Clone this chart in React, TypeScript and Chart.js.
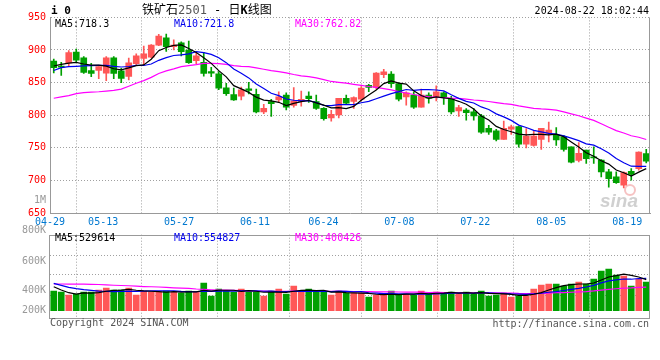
import React, { useEffect, useRef } from 'react';
import { Chart, registerables } from 'chart.js';

Chart.register(...registerables);

// ---------- data ----------
const DATES = [
  '04-29', '04-30', '05-06', '05-07', '05-08', '05-09', '05-10', '05-13', '05-14', '05-15',
  '05-16', '05-17', '05-20', '05-21', '05-22', '05-23', '05-24', '05-27', '05-28', '05-29',
  '05-30', '05-31', '06-03', '06-04', '06-05', '06-06', '06-07', '06-11', '06-12', '06-13',
  '06-14', '06-17', '06-18', '06-19', '06-20', '06-21', '06-24', '06-25', '06-26', '06-27',
  '06-28', '07-01', '07-02', '07-03', '07-04', '07-05', '07-08', '07-09', '07-10', '07-11',
  '07-12', '07-15', '07-16', '07-17', '07-18', '07-19', '07-22', '07-23', '07-24', '07-25',
  '07-26', '07-29', '07-30', '07-31', '08-01', '08-02', '08-05', '08-06', '08-07', '08-08',
  '08-09', '08-12', '08-13', '08-14', '08-15', '08-16', '08-19', '08-20', '08-21', '08-22',
];
const TICK_LABELS = ['04-29', '05-13', '05-27', '06-11', '06-24', '07-08', '07-22', '08-05', '08-19'];

const OPEN = [
  883, 875.5, 880, 897, 888, 868.5, 868.5, 864.5, 888, 868,
  859.5, 879, 887, 889, 907.5, 918.5, 905, 911, 900, 883.5,
  881, 867, 863.5, 842, 831.5, 829, 840.5, 832, 805, 821,
  823.5, 831, 815, 821, 829.5, 821, 810.5, 796, 800.5, 826,
  821, 824.5, 846, 842.5, 862, 863, 848.5, 828, 831, 812.5,
  831, 828, 834.5, 826, 806.5, 808, 805, 799, 780, 776,
  763, 778.5, 782.5, 755.5, 753.5, 763, 772, 769, 767, 751.5,
  730.5, 746.5, 736, 731, 713, 705.5, 692.5, 714, 718, 741,
];
const HIGH = [
  886, 881, 899, 901.5, 890, 879.5, 874.5, 890, 890, 872,
  887.5, 894, 906, 908.5, 924, 924.5, 915.5, 912.5, 913.5, 896,
  896.5, 873.5, 867, 849, 841.5, 843, 850.5, 840, 816.5, 824.5,
  836, 834.5, 842.5, 837, 836, 831, 811.5, 807.5, 826, 831,
  828, 844, 847.5, 865.5, 870.5, 867, 850, 836, 836, 840,
  834.5, 845, 836, 829, 815, 810, 810, 801.5, 784.5, 778.5,
  791, 785, 783.5, 779.5, 776, 780, 789.5, 781, 769, 751.5,
  758, 746.5, 751.5, 732, 717, 713, 713, 718, 744, 747.5,
];
const LOW = [
  865, 861, 874.5, 881, 864, 859, 856, 853, 856, 850,
  854, 876.5, 877.5, 888, 906.5, 898, 900, 891, 879.5, 878.5,
  860, 859, 839, 830.5, 822.5, 823.5, 832.5, 803.5, 802.5, 798,
  819.5, 808, 812.5, 814, 819.5, 809, 792.5, 791, 796, 816.5,
  810.5, 822, 836, 840, 857.5, 842.5, 822, 815.5, 810.5, 812.5,
  818.5, 822, 816.5, 802, 798, 792.5, 792.5, 772, 770.5, 760.5,
  763, 770.5, 751, 750, 752.5, 747.5, 759, 753.5, 745, 727,
  728.5, 726, 726, 705.5, 689.5, 695.5, 688.5, 700.5, 715.5, 727,
];
const CLOSE = [
  873, 873.5, 896, 884.5, 865.5, 864, 874.5, 888, 864, 856.5,
  880.5, 891, 894, 907.5, 921.5, 905, 907.5, 897.5, 880.5, 891,
  864, 864.5, 841.5, 833, 823.5, 839, 838, 805, 810.5, 817.5,
  828, 812.5, 822, 824.5, 825.5, 810.5, 794.5, 801.5, 826, 818.5,
  827, 841.5, 842.5, 864.5, 866.5, 848.5, 824.5, 834.5, 812.5, 831,
  826, 836, 828, 805, 811.5, 804, 799, 774, 774, 763,
  780, 782, 755.5, 768, 768, 780, 777, 762, 747.5, 728,
  741.5, 733.5, 734.5, 713, 702.5, 696.5, 712, 709, 743.5, 729.5,
];
const VOLUME = [
  335000, 318000, 267000, 284000, 318000, 318000, 352000, 386000, 352000, 352000,
  386000, 267000, 335000, 318000, 318000, 335000, 318000, 301000, 335000, 318000,
  472000, 250000, 369000, 335000, 318000, 369000, 318000, 318000, 250000, 335000,
  369000, 284000, 421000, 318000, 369000, 318000, 318000, 267000, 335000, 301000,
  301000, 301000, 233000, 267000, 267000, 335000, 267000, 284000, 267000, 335000,
  284000, 318000, 301000, 318000, 284000, 318000, 284000, 335000, 250000, 267000,
  301000, 233000, 250000, 250000, 369000, 438000, 455000, 455000, 421000, 455000,
  489000, 455000, 540000, 676000, 710000, 608000, 591000, 421000, 540000, 489000,
];

// moving-average values at the left edge (history not shown)
const MA5_HEAD = [875.5, 878, 880, 881];
const MA10_HEAD = [868.5, 873, 874.5, 875, 875.5, 876, 876.5, 876.5, 875];
const MA30_HEAD = [
  826, 828, 830, 833, 834.5, 835.4, 836, 837, 838, 840,
  844.5, 849, 853, 858, 864, 868, 871, 874.6, 876, 877.5,
  879.5, 879.5, 879, 878, 876, 875, 874.6, 872.5, 870.5,
];
const VOL_MA5_HEAD = [409000, 352000, 307000, 284000];
const VOL_MA10_HEAD = [466000, 432000, 398000, 375000, 358000, 347000, 335000, 330000, 324000];
const VOL_MA30_HEAD = [
  455000, 455000, 454000, 453000, 452000, 450000, 447000, 440000, 434000, 430000,
  425000, 418000, 412000, 408000, 404000, 396000, 390000, 386000, 382000, 370000,
  362000, 356000, 352000, 350000, 348000, 342000, 338000, 336000, 334000,
];

const PRICE_MIN = 650;
const PRICE_MAX = 950;
const PRICE_STEP = 50;
const VOL_MIN = -129600;
const VOL_MAX = 1295700;
const VOL_AXIS_LABELS = ['800K', '600K', '400K', '200K'];

const TITLE_CODE = 'i 0';
const TITLE_PARTS = ['铁矿石', '2501', ' - 日', 'K', '线图'];
const TIMESTAMP = '2024-08-22 18:02:44';
const PRICE_MA_TEXT = ['MA5:718.3', 'MA10:721.8', 'MA30:762.82'];
const VOL_MA_TEXT = ['MA5:529614', 'MA10:554827', 'MA30:400426'];
const SCALE_NOTE = '1M';
const COPYRIGHT = 'Copyright 2024 SINA.COM';
const URL_TEXT = 'http://finance.sina.com.cn';
const WATERMARK = 'sina';

// ---------- style ----------
const UP = '#ff5757';
const DOWN = '#00a000';
const GRID = '#a0a0a0';
const BORDER = '#999999';
const MA_COLORS = ['#000000', '#0000ee', '#ff00ff'];
const MONO = "'DejaVu Sans Mono', monospace";
const CJK = "'DejaVu Sans Mono', 'Noto Sans CJK SC', sans-serif";

function movingAverage(src: number[], n: number, head: number[]): number[] {
  return src.map((_, i) => {
    if (i < n - 1) return head[i];
    let s = 0;
    for (let k = i - n + 1; k <= i; k++) s += src[k];
    return s / n;
  });
}

function dateAxis(showLabels: boolean, tickIdx: number[], n: number): any {
  return {
    type: 'linear',
    position: 'bottom',
    min: 0,
    max: n - 1,
    offset: false,
    afterBuildTicks: (s: any) => {
      s.ticks = tickIdx.map((v) => ({ value: v }));
    },
    afterFit: (s: any) => {
      s.height = showLabels ? 15 : 0;
    },
    ticks: {
      display: showLabels,
      autoSkip: false,
      maxRotation: 0,
      color: '#0078d0',
      font: { family: MONO, size: 10 },
      padding: 3,
      callback: (v: number) => DATES[v],
    },
    grid: { color: GRID, drawTicks: false, lineWidth: 1 },
    border: { display: showLabels, color: BORDER, width: 1, dash: [1, 2] },
  };
}

const pricePlugin = {
  id: 'priceDecor',
  afterDraw(chart: any) {
    const { ctx, chartArea: a } = chart;
    ctx.save();
    ctx.strokeStyle = BORDER;
    ctx.lineWidth = 1;
    ctx.beginPath();
    ctx.moveTo(Math.round(a.right) - 0.5, a.top);
    ctx.lineTo(Math.round(a.right) - 0.5, a.bottom);
    ctx.stroke();

    ctx.textBaseline = 'middle';
    ctx.textAlign = 'left';
    ctx.font = `bold 11px ${MONO}`;
    ctx.fillStyle = '#000';
    ctx.fillText(TITLE_CODE, 51, 11);

    const partStyles = [
      { c: '#000', b: false },
      { c: '#555', b: false },
      { c: '#000', b: false },
      { c: '#000', b: true },
      { c: '#000', b: false },
    ];
    let x = 142;
    TITLE_PARTS.forEach((t, i) => {
      ctx.font = `${partStyles[i].b ? 'bold ' : ''}12px ${CJK}`;
      ctx.fillStyle = partStyles[i].c;
      ctx.fillText(t, x, 11);
      x += ctx.measureText(t).width;
    });

    ctx.font = `10px ${MONO}`;
    ctx.fillStyle = '#000';
    ctx.textAlign = 'right';
    ctx.fillText(TIMESTAMP, 649, 11);

    ctx.textAlign = 'left';
    const mx = [55, 174, 295];
    PRICE_MA_TEXT.forEach((t, i) => {
      ctx.fillStyle = MA_COLORS[i];
      ctx.fillText(t, mx[i], 24);
    });

    ctx.textAlign = 'right';
    ctx.fillStyle = '#999';
    ctx.fillText(SCALE_NOTE, 46, 200);

    // faint watermark
    ctx.textAlign = 'left';
    ctx.font = `italic bold 19px 'Liberation Sans', sans-serif`;
    ctx.fillStyle = 'rgba(150,150,150,0.45)';
    ctx.fillText(WATERMARK, 600, 202);
    ctx.strokeStyle = 'rgba(235,120,120,0.45)';
    ctx.lineWidth = 2;
    ctx.beginPath();
    ctx.arc(630, 190, 5, 0, Math.PI * 2);
    ctx.stroke();
    ctx.restore();
  },
};

const volPlugin = {
  id: 'volDecor',
  afterDraw(chart: any) {
    const { ctx, chartArea: a } = chart;
    ctx.save();
    ctx.strokeStyle = BORDER;
    ctx.lineWidth = 1;
    ctx.strokeRect(Math.round(a.left) - 0.5, Math.round(a.top) + 0.5, Math.round(a.right - a.left), Math.round(a.bottom - a.top) - 1);

    ctx.textBaseline = 'middle';
    ctx.font = `10px ${MONO}`;
    ctx.textAlign = 'left';
    const mx = [55, 174, 295];
    VOL_MA_TEXT.forEach((t, i) => {
      ctx.fillStyle = MA_COLORS[i];
      ctx.fillText(t, mx[i], 14);
    });

    ctx.textAlign = 'right';
    ctx.fillStyle = '#999';
    const ly = [6.5, 37, 66.7, 86.3];
    VOL_AXIS_LABELS.forEach((t, i) => ctx.fillText(t, 46, ly[i]));

    ctx.fillStyle = '#555';
    ctx.textAlign = 'left';
    ctx.fillText(COPYRIGHT, 50, 99.5);
    ctx.textAlign = 'right';
    ctx.fillText(URL_TEXT, 649, 100);
    ctx.restore();
  },
};

export default function App() {
  const priceRef = useRef<HTMLCanvasElement>(null);
  const volRef = useRef<HTMLCanvasElement>(null);

  useEffect(() => {
    const n = DATES.length;
    const colors = CLOSE.map((c, i) => (c >= OPEN[i] ? UP : DOWN));
    const tickIdx = TICK_LABELS.map((l) => DATES.indexOf(l));

    const ma5 = movingAverage(CLOSE, 5, MA5_HEAD);
    const ma10 = movingAverage(CLOSE, 10, MA10_HEAD);
    const ma30 = movingAverage(CLOSE, 30, MA30_HEAD);
    const vma5 = movingAverage(VOLUME, 5, VOL_MA5_HEAD);
    const vma10 = movingAverage(VOLUME, 10, VOL_MA10_HEAD);
    const vma30 = movingAverage(VOLUME, 30, VOL_MA30_HEAD);

    const lineDs = (data: number[], color: string) => ({
      type: 'line',
      data,
      borderColor: color,
      borderWidth: 1.2,
      pointRadius: 0,
      tension: 0,
      order: 0,
      xAxisID: 'x',
      yAxisID: 'y',
    });

    const priceChart = new Chart(priceRef.current as HTMLCanvasElement, {
      type: 'bar',
      data: {
        labels: DATES,
        datasets: [
          lineDs(ma5, MA_COLORS[0]),
          lineDs(ma10, MA_COLORS[1]),
          lineDs(ma30, MA_COLORS[2]),
          {
            type: 'bar',
            data: LOW.map((l, i) => [l, HIGH[i]]),
            backgroundColor: colors,
            barThickness: 1,
            grouped: false,
            order: 2,
            xAxisID: 'x',
            yAxisID: 'y',
          },
          {
            type: 'bar',
            data: OPEN.map((o, i) => [o, CLOSE[i]]),
            backgroundColor: colors,
            barThickness: 6,
            minBarLength: 1,
            grouped: false,
            order: 1,
            xAxisID: 'x',
            yAxisID: 'y',
          },
        ] as any,
      },
      options: {
        animation: false,
        responsive: false,
        maintainAspectRatio: false,
        events: [],
        layout: { padding: { top: 17.4, right: 10, bottom: 4, left: 0 } },
        plugins: { legend: { display: false }, tooltip: { enabled: false } },
        scales: {
          x: { type: 'category', display: false, offset: true },
          xd: dateAxis(true, tickIdx, n),
          y: {
            type: 'linear',
            min: PRICE_MIN,
            max: PRICE_MAX,
            afterFit: (s: any) => {
              s.width = 50;
            },
            ticks: {
              stepSize: PRICE_STEP,
              color: '#f00',
              font: { family: MONO, size: 10 },
              padding: 4,
            },
            grid: { color: GRID, drawTicks: false, lineWidth: 1 },
            border: { display: true, color: BORDER, width: 1, dash: [1, 2] },
          },
        } as any,
      },
      plugins: [pricePlugin],
    });

    const volChart = new Chart(volRef.current as HTMLCanvasElement, {
      type: 'bar',
      data: {
        labels: DATES,
        datasets: [
          lineDs(vma5, MA_COLORS[0]),
          lineDs(vma10, MA_COLORS[1]),
          lineDs(vma30, MA_COLORS[2]),
          {
            type: 'bar',
            data: VOLUME,
            backgroundColor: colors,
            barThickness: 6,
            order: 1,
            xAxisID: 'x',
            yAxisID: 'y',
          },
        ] as any,
      },
      options: {
        animation: false,
        responsive: false,
        maintainAspectRatio: false,
        events: [],
        layout: { padding: { top: 10.7, right: 10, bottom: 41.7, left: 0 } },
        plugins: { legend: { display: false }, tooltip: { enabled: false } },
        scales: {
          x: { type: 'category', display: false, offset: true },
          xd: dateAxis(false, tickIdx, n),
          y: {
            type: 'linear',
            min: VOL_MIN,
            max: VOL_MAX,
            afterFit: (s: any) => {
              s.width = 50;
            },
            afterBuildTicks: (s: any) => {
              s.ticks = [0.245, 0.48, 0.725].map((f) => ({ value: s.max - f * (s.max - s.min) }));
            },
            ticks: { display: false },
            grid: { color: GRID, drawTicks: false, lineWidth: 1 },
            border: { display: false, dash: [1, 2] },
          },
        } as any,
      },
      plugins: [volPlugin],
    });

    return () => {
      priceChart.destroy();
      volChart.destroy();
    };
  }, []);

  return (
    <div style={{ position: 'absolute', left: 0, top: 0, width: 660, height: 360, background: '#fff' }}>
      <canvas
        ref={priceRef}
        width={660}
        height={232}
        style={{ position: 'absolute', left: 0, top: 0, width: 660, height: 232 }}
      />
      <canvas
        ref={volRef}
        width={660}
        height={136}
        style={{ position: 'absolute', left: 0, top: 224, width: 660, height: 136 }}
      />
    </div>
  );
}
